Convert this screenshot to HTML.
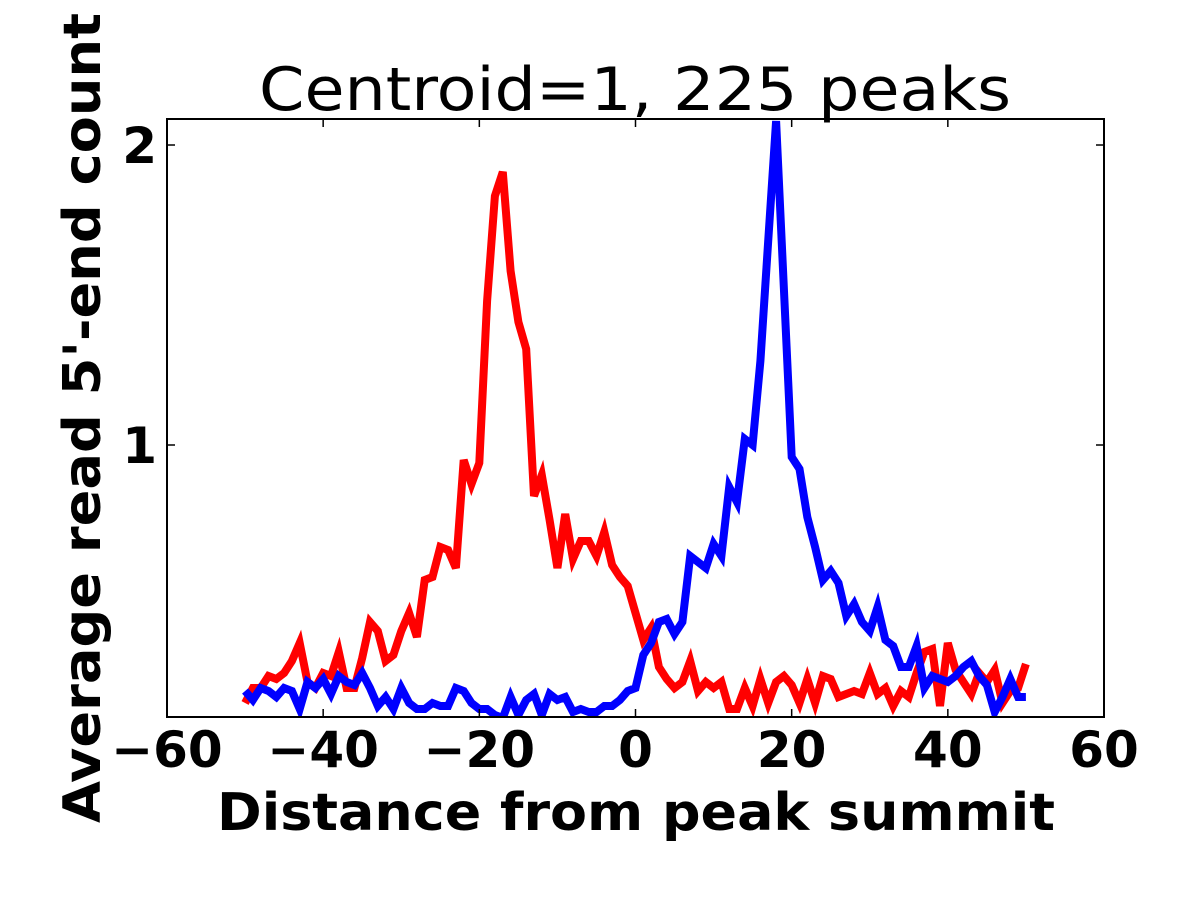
<!DOCTYPE html>
<html><head><meta charset="utf-8"><style>
html,body{margin:0;padding:0;background:#fff;}
svg{display:block;}
text{font-family:"DejaVu Sans","Liberation Sans",sans-serif;fill:#000;}
</style></head><body>
<svg id="chart" width="1200" height="900" viewBox="0 0 1200 900" xmlns="http://www.w3.org/2000/svg">
<text x="635" y="110" font-size="60" text-anchor="middle" textLength="752" lengthAdjust="spacingAndGlyphs">Centroid=1, 225 peaks</text>
<defs><clipPath id="clip"><rect x="167" y="119" width="937" height="598"/></clipPath></defs>
<g id="series" clip-path="url(#clip)"></g>
<rect x="167" y="119" width="937" height="598" fill="none" stroke="#000" stroke-width="2"/>
<g id="ticks"></g>
<text x="636" y="830" font-size="52" font-weight="bold" text-anchor="middle" textLength="838" lengthAdjust="spacingAndGlyphs">Distance from peak summit</text>
<text transform="translate(100,418) rotate(-90)" font-size="52" font-weight="bold" text-anchor="middle" textLength="810" lengthAdjust="spacingAndGlyphs">Average read 5'-end count</text>
</svg>
<script>
const xTicks = [-60, -40, -20, 0, 20, 40, 60];
const xTickLabels = ["\u221260", "\u221240", "\u221220", "0", "20", "40", "60"];
const yTicks = [1, 2];
const yTickLabels = ["1", "2"];
const positions = Array.from({length: 101}, (_, i) => i - 50);
const redValues = [0.14,0.19,0.19,0.23,0.22,0.24,0.28,0.34,0.21,0.19,0.24,0.23,0.31,0.19,0.19,0.29,0.41,0.38,0.28,0.30,0.38,0.44,0.36,0.55,0.56,0.66,0.65,0.59,0.95,0.87,0.94,1.48,1.83,1.91,1.58,1.41,1.32,0.83,0.90,0.75,0.59,0.77,0.62,0.68,0.68,0.63,0.71,0.60,0.56,0.53,0.44,0.35,0.39,0.26,0.22,0.19,0.21,0.28,0.18,0.21,0.19,0.21,0.12,0.12,0.19,0.13,0.22,0.14,0.21,0.23,0.20,0.14,0.22,0.14,0.23,0.22,0.16,0.17,0.18,0.17,0.24,0.17,0.19,0.13,0.18,0.16,0.24,0.31,0.32,0.13,0.34,0.25,0.21,0.17,0.24,0.21,0.25,0.14,0.18,0.19,0.27];
const blueValues = [0.18,0.15,0.19,0.18,0.16,0.19,0.18,0.12,0.21,0.19,0.22,0.17,0.23,0.21,0.20,0.24,0.19,0.13,0.16,0.12,0.19,0.14,0.12,0.12,0.14,0.13,0.13,0.19,0.18,0.14,0.12,0.12,0.10,0.09,0.16,0.10,0.15,0.17,0.10,0.17,0.15,0.16,0.11,0.12,0.11,0.11,0.13,0.13,0.15,0.18,0.19,0.30,0.34,0.41,0.42,0.37,0.41,0.63,0.61,0.59,0.67,0.63,0.86,0.81,1.02,1.00,1.28,1.68,2.08,1.52,0.96,0.92,0.76,0.66,0.55,0.58,0.54,0.43,0.47,0.41,0.38,0.46,0.35,0.33,0.26,0.26,0.33,0.19,0.23,0.22,0.21,0.23,0.26,0.28,0.23,0.20,0.11,0.16,0.22,0.16,0.16];

const L=167,R=1104,T=119,B=717;
const xMin=-60,xMax=60,yMin=0.0933,yMax=2.0867;
const xs=v=>L+(v-xMin)/(xMax-xMin)*(R-L);
const ys=v=>B-(v-yMin)/(yMax-yMin)*(B-T);
const NS="http://www.w3.org/2000/svg";
const g=document.getElementById('series');
function line(vals,color,name){
  const p=document.createElementNS(NS,'polyline');
  p.setAttribute('points',vals.map((v,i)=>xs(positions[i]).toFixed(1)+','+ys(v).toFixed(1)).join(' '));
  p.setAttribute('fill','none');p.setAttribute('stroke',color);p.setAttribute('stroke-width','8');
  p.setAttribute('stroke-linejoin','miter');
  
  
  g.appendChild(p);
}
line(redValues,'#ff0000','red-series-line');
line(blueValues,'#0000ff','blue-series-line');
const tg=document.getElementById('ticks');
function mk(tag,attrs){const e=document.createElementNS(NS,tag);for(const k in attrs)e.setAttribute(k,attrs[k]);tg.appendChild(e);return e;}
xTicks.forEach((t,i)=>{
  const x=xs(t);
  const a=mk('line',{x1:x,x2:x,y1:B,y2:B-8,stroke:'#000','stroke-width':1.5});
  
  
  const b=mk('line',{x1:x,x2:x,y1:T,y2:T+8,stroke:'#000','stroke-width':1.5});
  
  
  const tx=mk('text',{x:x,y:767,'font-size':50,'font-weight':'bold','text-anchor':'middle'});
  tx.textContent=xTickLabels[i];
  
  
});
yTicks.forEach((t,i)=>{
  const y=ys(t);
  const a=mk('line',{x1:L,x2:L+8,y1:y,y2:y,stroke:'#000','stroke-width':1.5});
  
  
  const b=mk('line',{x1:R,x2:R-8,y1:y,y2:y,stroke:'#000','stroke-width':1.5});
  
  
  const tx=mk('text',{x:L-10,y:y+18,'font-size':50,'font-weight':'bold','text-anchor':'end'});
  tx.textContent=yTickLabels[i];
  
  
});
</script>
</body></html>
